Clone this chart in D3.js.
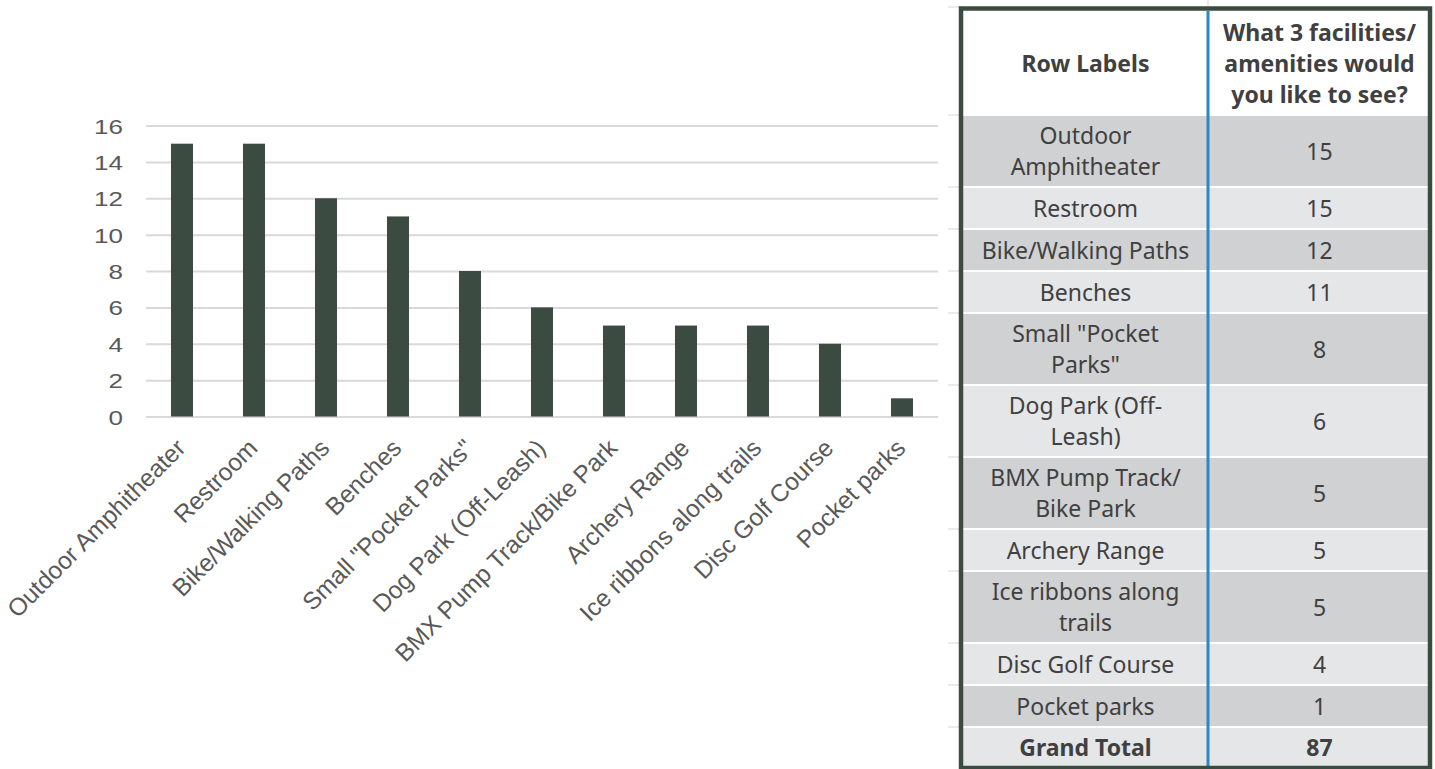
<!DOCTYPE html>
<html>
<head>
<meta charset="utf-8">
<script src="https://cdn.jsdelivr.net/npm/d3@7"></script>
<style>
  html, body { margin: 0; padding: 0; background: #ffffff; }
  svg { display: block; }
</style>
</head>
<body>
<svg id="view" width="1435" height="769"></svg>
<script>
// Survey responses: facilities / amenities people would like to see
const categories = [
  "Outdoor Amphitheater", "Restroom", "Bike/Walking Paths", "Benches",
  "Small \"Pocket Parks\"", "Dog Park (Off-Leash)", "BMX Pump Track/Bike Park",
  "Archery Range", "Ice ribbons along trails", "Disc Golf Course", "Pocket parks"
];
const values = [15, 15, 12, 11, 8, 6, 5, 5, 5, 4, 1];
const yTicks = [0, 2, 4, 6, 8, 10, 12, 14, 16];

// Pivot table row labels, wrapped as shown in the cells
const tableLabelLines = [
  ["Outdoor", "Amphitheater"], ["Restroom"], ["Bike/Walking Paths"], ["Benches"],
  ["Small \"Pocket", "Parks\""], ["Dog Park (Off-", "Leash)"], ["BMX Pump Track/", "Bike Park"],
  ["Archery Range"], ["Ice ribbons along", "trails"], ["Disc Golf Course"], ["Pocket parks"]
];
const headerLeft = ["Row Labels"];
const headerRight = ["What 3 facilities/", "amenities would", "you like to see?"];
const totalLabel = "Grand Total";

const svg = d3.select("#view");

// ---------- column chart ----------
const barColor = "#3c4b41";
const axisText = "#595959";
const x = d3.scaleBand().domain(categories).range([146, 938]).paddingInner(0.694).paddingOuter(0.347);
const y = d3.scaleLinear().domain([0, 16]).range([416.5, 125.5]);

const tickStretch = 1.24;
const gY = svg.append("g").attr("transform", `translate(146,0)`)
  .call(d3.axisLeft(y).tickValues(yTicks).tickSize(-(938 - 146)).tickPadding(0));
gY.select(".domain").remove();
gY.selectAll(".tick line").attr("stroke", "#d9d9d9").attr("stroke-width", 2);
gY.selectAll(".tick text")
  .attr("fill", axisText)
  .attr("font-family", "'Liberation Sans', Arial, sans-serif")
  .attr("font-size", 21)
  .attr("x", -23 / tickStretch)
  .attr("dy", "0.36em")
  .attr("transform", `scale(${tickStretch},1)`);

svg.append("g").selectAll("rect").data(categories).join("rect")
  .attr("x", d => x(d))
  .attr("width", x.bandwidth())
  .attr("y", (d, i) => y(values[i]))
  .attr("height", (d, i) => y(0) - y(values[i]))
  .attr("fill", barColor);

const gX = svg.append("g").attr("transform", `translate(0,${y(0)})`)
  .call(d3.axisBottom(x).tickSize(0).tickPadding(0));
gX.select(".domain").remove();
gX.selectAll(".tick text")
  .attr("fill", axisText)
  .attr("font-family", "'Liberation Sans', Arial, sans-serif")
  .attr("font-size", 24.5)
  .attr("text-anchor", "end")
  .attr("y", 0).attr("dy", 0)
  .attr("transform", "translate(5,33) rotate(-45)");

// ---------- pivot table ----------
const tbl = { left: 963, right: 1429, top: 11, divider: 1208 };
const fontTable = "'Noto Sans', 'Open Sans', sans-serif";
const textColor = "#404040";
const lineH = 31;
const gap = 2;
const rowH = n => (n === 1 ? 40 : 70);

// build row geometry from the label lines
const rows = [];
let cy = tbl.top + 103 + gap;
tableLabelLines.forEach((lines, i) => {
  const h = rowH(lines.length);
  rows.push({ lines, value: values[i], y0: cy, h, bold: false });
  cy += h + gap;
});
rows.push({ lines: [totalLabel], value: d3.sum(values), y0: cy, h: 769 - 2 - cy, bold: true });

const gT = svg.append("g");

// faint spreadsheet gridlines peeking out around the table
const gridYs = [tbl.top - 4].concat(rows.map(r => r.y0 - 1));
gT.selectAll("line.sheet").data(gridYs).join("line")
  .attr("class", "sheet")
  .attr("x1", 948).attr("x2", tbl.left).attr("y1", d => d).attr("y2", d => d)
  .attr("stroke", "#d6d6d6").attr("stroke-width", 1);
gT.append("line").attr("x1", tbl.divider).attr("x2", tbl.divider).attr("y1", 0).attr("y2", 7)
  .attr("stroke", "#d6d6d6").attr("stroke-width", 1);

// white background of the table area
gT.append("rect").attr("x", tbl.left).attr("y", tbl.top)
  .attr("width", tbl.right - tbl.left).attr("height", 769 - tbl.top).attr("fill", "#ffffff");

// banded body rows
gT.selectAll("rect.row").data(rows).join("rect")
  .attr("class", "row")
  .attr("x", tbl.left).attr("width", tbl.right - tbl.left)
  .attr("y", d => d.y0).attr("height", d => d.h)
  .attr("fill", (d, i) => (i % 2 === 0 ? "#d0d1d3" : "#e5e6e8"));

// cell text, one tspan per wrapped line
const leftCx = (tbl.left + tbl.divider) / 2;
const rightCx = (tbl.divider + tbl.right) / 2 + 1;
const headerMid = tbl.top + 52;
function drawLines(g, lines, cx, mid, bold) {
  const n = lines.length;
  g.append("text")
    .attr("x", cx)
    .attr("text-anchor", "middle")
    .attr("font-family", fontTable)
    .attr("font-size", 23)
    .attr("font-weight", bold ? 700 : 400)
    .attr("fill", textColor)
    .selectAll("tspan").data(lines).join("tspan")
    .attr("x", cx)
    .attr("y", (d, i) => mid + (i - (n - 1) / 2) * lineH + 8.5)
    .text(d => d);
}
drawLines(gT, headerLeft, leftCx, headerMid, true);
drawLines(gT, headerRight, rightCx, headerMid, true);

rows.forEach(r => {
  const mid = r.y0 + r.h / 2;
  drawLines(gT, r.lines, leftCx, mid, r.bold);
  drawLines(gT, [String(r.value)], rightCx, mid, r.bold);
});

// column divider
gT.append("line").attr("x1", tbl.divider).attr("x2", tbl.divider)
  .attr("y1", tbl.top).attr("y2", 767)
  .attr("stroke", "#2f86c6").attr("stroke-width", 3);

// outer frame
gT.append("rect")
  .attr("x", tbl.left - 2).attr("y", tbl.top - 2.5)
  .attr("width", tbl.right - tbl.left + 3).attr("height", 769 - tbl.top + 1.5)
  .attr("fill", "none").attr("stroke", "#3c4b41").attr("stroke-width", 4.5);
</script>
</body>
</html>
